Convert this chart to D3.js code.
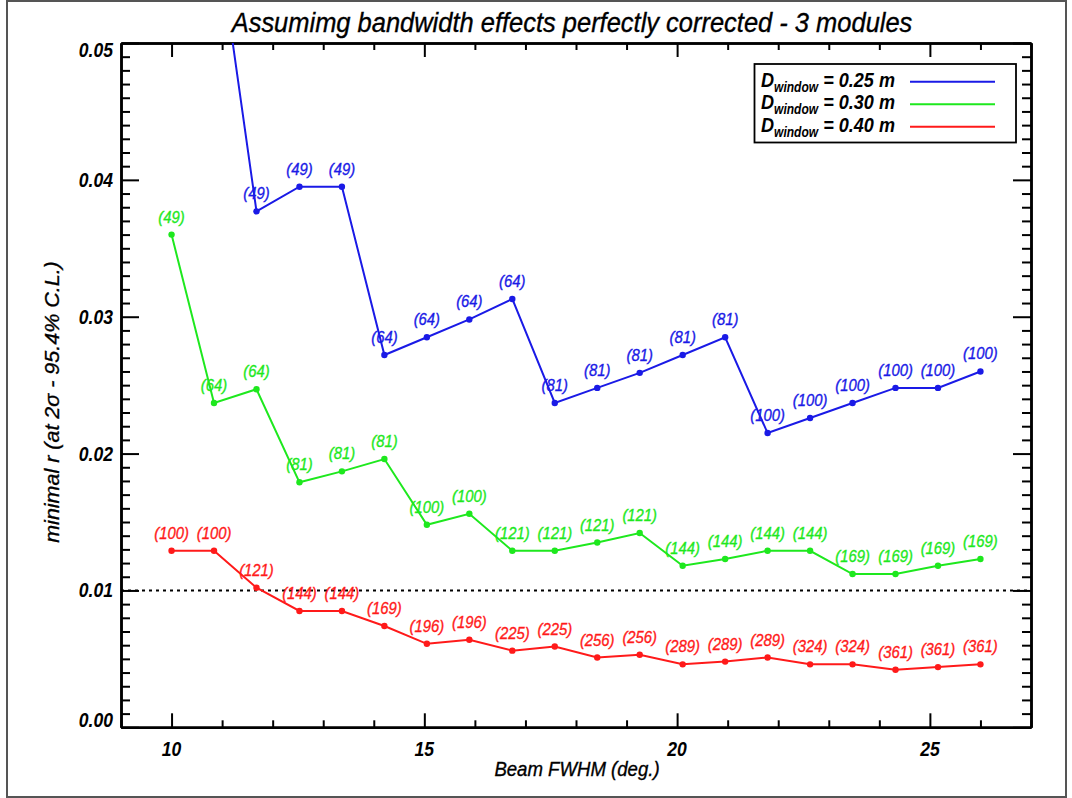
<!DOCTYPE html>
<html>
<head>
<meta charset="utf-8">
<script src="https://cdn.jsdelivr.net/npm/d3@7"></script>
<style>
  html, body { margin: 0; padding: 0; background: #fff; }
  svg { display: block; }
  text { font-family: "Liberation Sans", Arial, Helvetica, sans-serif; }
</style>
</head>
<body>
<svg id="chart" width="1072" height="798"></svg>
<script>
// Beam FWHM (deg.) sampled for each configuration
const beamFwhm = [10.00, 10.84, 11.68, 12.53, 13.37, 14.21, 15.05, 15.89, 16.74, 17.58,
                  18.42, 19.26, 20.11, 20.95, 21.79, 22.63, 23.47, 24.32, 25.16, 26.00];

// minimal r for D_window = 0.25 m (first sample not computed, second off scale)
const r025 = [null, 0.0597, 0.0377, 0.0395, 0.0395, 0.0272, 0.0285, 0.0298, 0.0313, 0.0237,
              0.0248, 0.0259, 0.0272, 0.0285, 0.0215, 0.0226, 0.0237, 0.0248, 0.0248, 0.0260];
const n025 = [null, null, "(49)", "(49)", "(49)", "(64)", "(64)", "(64)", "(64)", "(81)",
              "(81)", "(81)", "(81)", "(81)", "(100)", "(100)", "(100)", "(100)", "(100)", "(100)"];

// minimal r for D_window = 0.30 m
const r030 = [0.0360, 0.0237, 0.0247, 0.0179, 0.0187, 0.0196, 0.0148, 0.0156, 0.0129, 0.0129,
              0.0135, 0.0142, 0.0118, 0.0123, 0.0129, 0.0129, 0.0112, 0.0112, 0.0118, 0.0123];
const n030 = ["(49)", "(64)", "(64)", "(81)", "(81)", "(81)", "(100)", "(100)", "(121)", "(121)",
              "(121)", "(121)", "(144)", "(144)", "(144)", "(144)", "(169)", "(169)", "(169)", "(169)"];

// minimal r for D_window = 0.40 m
const r040 = [0.0129, 0.0129, 0.0102, 0.0085, 0.0085, 0.0074, 0.0061, 0.0064, 0.0056, 0.0059,
              0.0051, 0.0053, 0.0046, 0.0048, 0.0051, 0.0046, 0.0046, 0.0042, 0.0044, 0.0046];
const n040 = ["(100)", "(100)", "(121)", "(144)", "(144)", "(169)", "(196)", "(196)", "(225)", "(225)",
              "(256)", "(256)", "(289)", "(289)", "(289)", "(324)", "(324)", "(361)", "(361)", "(361)"];

const seriesNames = ["0.25", "0.30", "0.40"];
const seriesColors = ["#1a1ae6", "#1ee81e", "#ff1a1a"];

const xMajorTicks = [10, 15, 20, 25];
const yMajorTicks = [0.00, 0.01, 0.02, 0.03, 0.04, 0.05];
const referenceLevel = 0.01;

const titleText = "Assumimg bandwidth effects perfectly corrected - 3 modules";
const xTitle = "Beam FWHM (deg.)";
const yTitle = "minimal r (at 2\u03C3 - 95.4% C.L.)";

// ---------------------------------------------------------------
const svg = d3.select("#chart");
const W = 1072, H = 798;
const plot = { left: 121, right: 1031, top: 43, bottom: 727.3 };
const squeeze = 0.9;   // narrow lettering

svg.append("rect").attr("width", W).attr("height", H).attr("fill", "#fff");
svg.append("rect")
  .attr("x", 7).attr("y", 1).attr("width", 1059).attr("height", 796)
  .attr("fill", "none").attr("stroke", "#555").attr("stroke-width", 2);

const x = d3.scaleLinear().domain([9, 27]).range([plot.left, plot.right]);
const y = d3.scaleLinear().domain([0, 0.05]).range([plot.bottom, plot.top]);

const xMinor = d3.range(9, 28, 1).filter(v => !xMajorTicks.includes(v));
const yMinor = d3.range(0, 51, 1).map(v => v / 1000).filter(v => Math.round(v * 1000) % 10 !== 0);

// text placed at (px,py) and squeezed horizontally
function label(parent, px, py, str, opts) {
  const g = parent.append("g").attr("transform", `translate(${px},${py}) scale(${opts.k || squeeze},1)`);
  const col = opts.fill || "#000";
  const t = g.append("text").attr("x", 0).attr("y", 0)
    .attr("text-anchor", opts.anchor || "middle")
    .attr("font-size", opts.size).attr("font-style", "italic")
    .attr("font-weight", opts.bold ? "bold" : "normal")
    .attr("fill", col);
  if (!opts.bold) t.attr("stroke", col).attr("stroke-width", 0.35);
  if (str !== null) t.text(str);
  return t;
}

const axisStyle = g => {
  g.select(".domain").attr("stroke", "#000").attr("stroke-width", 2.5);
  g.selectAll(".tick line").attr("stroke", "#000").attr("stroke-width", 2);
};

// bottom axis (major ticks, minor ticks, labels)
svg.append("g").attr("transform", `translate(0,${plot.bottom})`)
  .call(d3.axisBottom(x).tickValues(xMajorTicks).tickSizeInner(-14).tickSizeOuter(0).tickFormat(""))
  .call(axisStyle);
svg.append("g").attr("transform", `translate(0,${plot.bottom})`)
  .call(d3.axisBottom(x).tickValues(xMinor).tickSizeInner(-7).tickSizeOuter(0).tickFormat(""))
  .call(axisStyle);
xMajorTicks.forEach(v => label(svg, x(v), 756, d3.format("d")(v), { size: 19.5, bold: true }));

// top axis
svg.append("g").attr("transform", `translate(0,${plot.top})`)
  .call(d3.axisTop(x).tickValues(xMajorTicks).tickSizeInner(-14).tickSizeOuter(0).tickFormat(""))
  .call(axisStyle);
svg.append("g").attr("transform", `translate(0,${plot.top})`)
  .call(d3.axisTop(x).tickValues(xMinor).tickSizeInner(-7).tickSizeOuter(0).tickFormat(""))
  .call(axisStyle);

// left axis
svg.append("g").attr("transform", `translate(${plot.left},0)`)
  .call(d3.axisLeft(y).tickValues(yMajorTicks).tickSizeInner(-18).tickSizeOuter(0).tickFormat(""))
  .call(axisStyle);
svg.append("g").attr("transform", `translate(${plot.left},0)`)
  .call(d3.axisLeft(y).tickValues(yMinor).tickSizeInner(-9).tickSizeOuter(0).tickFormat(""))
  .call(axisStyle);
yMajorTicks.forEach(v => {
  const shift = v === 0 ? 0 : (v === 0.05 ? 13.5 : 7);
  label(svg, 113, y(v) + shift, d3.format(".2f")(v), { size: 19.5, bold: true, anchor: "end" });
});

// right axis
svg.append("g").attr("transform", `translate(${plot.right},0)`)
  .call(d3.axisRight(y).tickValues(yMajorTicks).tickSizeInner(-18).tickSizeOuter(0).tickFormat(""))
  .call(axisStyle);
svg.append("g").attr("transform", `translate(${plot.right},0)`)
  .call(d3.axisRight(y).tickValues(yMinor).tickSizeInner(-9).tickSizeOuter(0).tickFormat(""))
  .call(axisStyle);

// title and axis titles
label(svg, 572, 32, titleText, { size: 28, k: 0.91 });
label(svg, 577, 776, xTitle, { size: 20, k: 0.93 });
svg.append("g").attr("transform", "translate(59,402) rotate(-90) scale(1,0.92)")
  .append("text").attr("text-anchor", "middle")
  .attr("font-size", 21.5).attr("font-style", "italic").attr("fill", "#000")
  .attr("stroke", "#000").attr("stroke-width", 0.35).text(yTitle);

// clip region for the data
svg.append("clipPath").attr("id", "plotClip").append("rect")
  .attr("x", plot.left).attr("y", plot.top)
  .attr("width", plot.right - plot.left).attr("height", plot.bottom - plot.top);

const dataG = svg.append("g").attr("clip-path", "url(#plotClip)");

// reference level r = 0.01
dataG.append("line")
  .attr("x1", x(9)).attr("x2", x(27)).attr("y1", y(referenceLevel)).attr("y2", y(referenceLevel))
  .attr("stroke", "#000").attr("stroke-width", 2).attr("stroke-dasharray", "3,4");

const allSeries = [
  { values: r025, labels: n025 },
  { values: r030, labels: n030 },
  { values: r040, labels: n040 }
];

const line = d3.line()
  .defined(d => d.v !== null)
  .x(d => x(d.x)).y(d => y(d.v));

allSeries.forEach((s, i) => {
  const pts = beamFwhm.map((xv, j) => ({ x: xv, v: s.values[j], label: s.labels[j] }));
  const col = seriesColors[i];
  dataG.append("path").datum(pts)
    .attr("d", line).attr("fill", "none").attr("stroke", col).attr("stroke-width", 2);
  const shown = pts.filter(d => d.v !== null && d.v <= 0.05);
  dataG.selectAll(null).data(shown).enter().append("circle")
    .attr("cx", d => x(d.x)).attr("cy", d => y(d.v)).attr("r", 3.2).attr("fill", col);
  shown.filter(d => d.label).forEach(d =>
    label(svg, x(d.x), y(d.v) - 12, d.label, { size: 16.5, fill: col }));
});

// legend
const legend = svg.append("g");
legend.append("rect").attr("x", 754.5).attr("y", 64).attr("width", 261.5).attr("height", 78.5)
  .attr("fill", "#fff").attr("stroke", "#000").attr("stroke-width", 1.8);
seriesNames.forEach((name, i) => {
  const base = 86.7 + i * 22.5;
  const t = label(legend, 761, base, null, { size: 21, bold: true, anchor: "start", k: 0.86 });
  t.append("tspan").text("D");
  t.append("tspan").attr("dy", 5).attr("font-size", 14).text("window");
  t.append("tspan").attr("dy", -5).text(` = ${name} m`);
  legend.append("line").attr("x1", 910).attr("x2", 995).attr("y1", base - 5).attr("y2", base - 5)
    .attr("stroke", seriesColors[i]).attr("stroke-width", 2);
});
</script>
</body>
</html>
